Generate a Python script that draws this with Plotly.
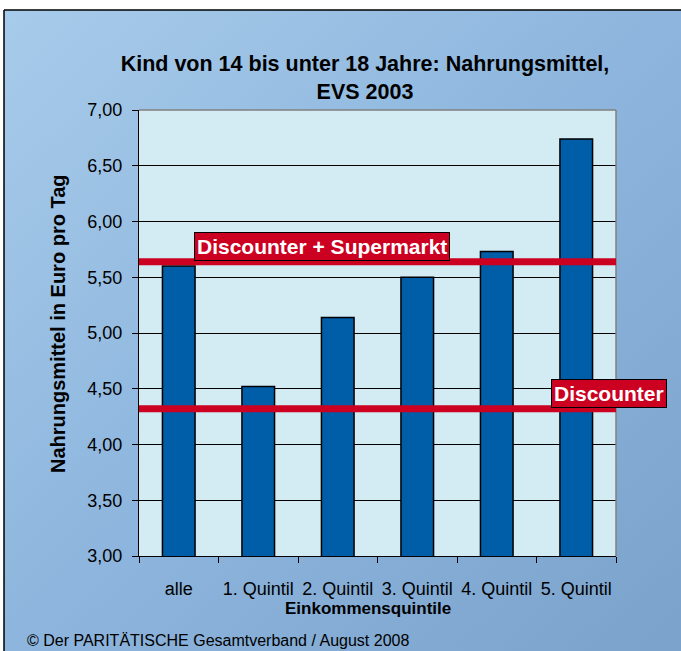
import base64
import plotly.graph_objects as go

# data
categories = ["alle", "1. Quintil", "2. Quintil", "3. Quintil", "4. Quintil", "5. Quintil"]
values = [5.60, 4.52, 5.14, 5.50, 5.73, 6.74]
line_names = ["Discounter + Supermarkt", "Discounter"]
line_values = [5.64, 4.32]
y_ticks = [3.0, 3.5, 4.0, 4.5, 5.0, 5.5, 6.0, 6.5, 7.0]

W, H = 681, 651
L, R, T, B = 139, 65, 110, 95
pw, ph = W - L - R, H - T - B


def px(x):
    # pixel -> paper x
    return (x - L) / pw


def py(y):
    # pixel -> paper y
    return (H - B - y) / ph


FONT = "Liberation Sans, Arial, sans-serif"

svg = """<svg xmlns='http://www.w3.org/2000/svg' width='100' height='100' preserveAspectRatio='none'>
<defs><linearGradient id='g' x1='0' y1='0' x2='1' y2='1'>
<stop offset='0' stop-color='#a7cbea'/><stop offset='0.5' stop-color='#8db5dd'/>
<stop offset='1' stop-color='#7aa2cb'/></linearGradient></defs>
<rect width='100' height='100' fill='url(#g)'/></svg>"""
bg_src = "data:image/svg+xml;base64," + base64.b64encode(svg.encode()).decode()

fig = go.Figure()
fig.add_trace(go.Bar(
    x=categories,
    y=values,
    marker=dict(color="#005da8", line=dict(color="black", width=1.5)),
    showlegend=False,
    hoverinfo="x+y",
))

shapes = [
    # plot area background
    dict(type="rect", xref="x domain", yref="y domain", x0=0, x1=1, y0=0, y1=1,
         fillcolor="#d3ebf3", line=dict(width=0), layer="below"),
    # gray top / right border
    dict(type="line", xref="x domain", yref="y domain", x0=0, x1=1, y0=1, y1=1,
         line=dict(color="#808080", width=1.5), layer="above"),
    dict(type="line", xref="x domain", yref="y domain", x0=1, x1=1, y0=0, y1=1,
         line=dict(color="#808080", width=1.5), layer="above"),
    # black frame top / left
    dict(type="line", xref="paper", yref="paper", x0=px(4), x1=px(W), y0=py(10), y1=py(10),
         line=dict(color="black", width=1.5), layer="above"),
    dict(type="line", xref="paper", yref="paper", x0=px(4), x1=px(4), y0=py(10), y1=py(H),
         line=dict(color="black", width=1.5), layer="above"),
]
for v in line_values:
    shapes.append(dict(type="line", xref="x domain", yref="y", x0=0, x1=1, y0=v, y1=v,
                       line=dict(color="#cc0020", width=7), layer="above"))

label_x = [px(322), px(609)]
annotations = []
for name, v, lx in zip(line_names, line_values, label_x):
    annotations.append(dict(
        text="<b>%s</b>" % name, x=lx, xref="paper", y=v, yref="y",
        xanchor="center", yanchor="bottom", yshift=1, showarrow=False,
        font=dict(family=FONT, size=21, color="white"),
        bgcolor="#cc0020", bordercolor="black", borderwidth=1, borderpad=2,
    ))

annotations += [
    dict(text="<b>Nahrungsmittel in Euro pro Tag</b>", x=px(58), y=py(324),
         xref="paper", yref="paper", xanchor="center", yanchor="middle",
         textangle=-90, showarrow=False,
         font=dict(family=FONT, size=20, color="black")),
    dict(text="<b>Einkommensquintile</b>", x=px(368), y=py(608),
         xref="paper", yref="paper", xanchor="center", yanchor="middle", showarrow=False,
         font=dict(family=FONT, size=17, color="black")),
    dict(text="© Der PARITÄTISCHE Gesamtverband / August 2008", x=px(25), y=py(640),
         xref="paper", yref="paper", xanchor="left", yanchor="middle", showarrow=False,
         font=dict(family=FONT, size=16, color="black")),
]

fig.update_layout(
    width=W, height=H,
    margin=dict(l=L, r=R, t=T, b=B, autoexpand=False),
    paper_bgcolor="white",
    plot_bgcolor="rgba(0,0,0,0)",
    separators=",.",
    bargap=0.59,
    title=dict(text="<b>Kind von 14 bis unter 18 Jahre: Nahrungsmittel,<br>EVS 2003</b>",
               x=365 / W, y=1 - 71 / H, xanchor="center", yanchor="middle",
               font=dict(family=FONT, size=21.5, color="black")),
    font=dict(family=FONT, color="black"),
    shapes=shapes,
    annotations=annotations,
    images=[dict(source=bg_src, xref="paper", yref="paper", x=px(4), y=py(10),
                 sizex=(W - 4) / pw, sizey=(H - 10) / ph, xanchor="left", yanchor="top",
                 sizing="stretch", layer="below")],
    xaxis=dict(
        type="category", tickson="boundaries", ticks="outside", ticklen=6,
        tickcolor="black", showline=True, linecolor="black", linewidth=1,
        showgrid=False, tickangle=0, tickfont=dict(size=18, color="black"),
        ticklabelstandoff=16,
    ),
    yaxis=dict(
        range=[3, 7], tickvals=y_ticks, tickformat=".2f", ticks="outside", ticklen=6,
        tickcolor="black", showline=True, linecolor="black", linewidth=1,
        showgrid=True, gridcolor="black", gridwidth=1, zeroline=False,
        tickfont=dict(size=18, color="black"), ticklabelstandoff=6,
    ),
)

fig.write_html("out.html", config={"displayModeBar": False},
               post_script="document.body.style.margin='0';")
